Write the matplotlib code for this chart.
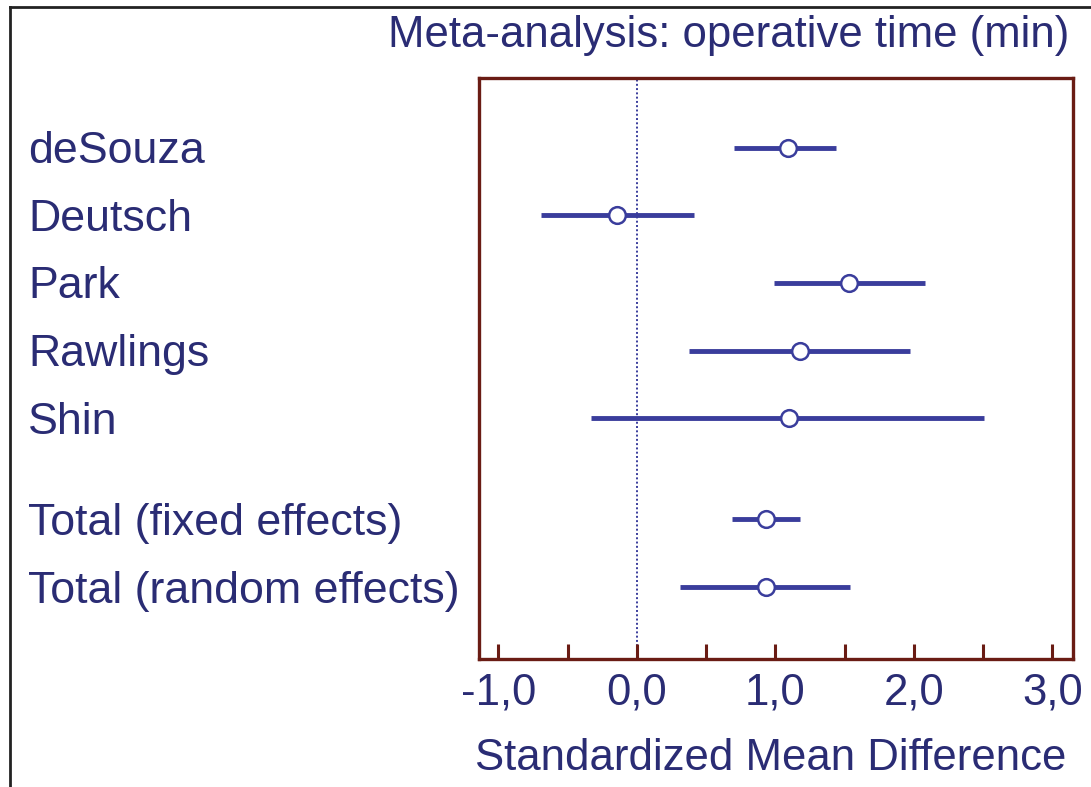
import matplotlib
matplotlib.use("Agg")
import matplotlib.pyplot as plt
import matplotlib.transforms as mtransforms
from matplotlib.lines import Line2D

# Datos (SMD y IC 95%)
studies = ["deSouza", "Deutsch", "Park", "Rawlings", "Shin",
           "Total (fixed effects)", "Total (random effects)"]
row_pos = [0, 1, 2, 3, 4, 5.5, 6.5]
smd = [1.09, -0.14, 1.53, 1.18, 1.10, 0.93, 0.93]
ci_low = [0.70, -0.69, 0.99, 0.38, -0.33, 0.69, 0.31]
ci_high = [1.44, 0.41, 2.08, 1.97, 2.51, 1.18, 1.54]

major_ticks = [-1, 0, 1, 2, 3]
major_labels = ["-1,0", "0,0", "1,0", "2,0", "3,0"]
minor_ticks = [-0.5, 0.5, 1.5, 2.5]

TEXT = "#2a2c74"
LINE = "#3a3d9c"
FRAME = "#6a1c14"

plt.rcParams["font.family"] = ["Liberation Sans", "DejaVu Sans"]
FS = 31.5
W, H = 1091, 787

fig = plt.figure(figsize=(W / 100, H / 100), dpi=100)
ax = fig.add_axes([0.439, 0.1626, 0.5445, 0.7384])

ax.axvline(0, color=LINE, lw=1.4, ls=(0, (1, 1.2)), zorder=1)
for y, m, lo, hi in zip(row_pos, smd, ci_low, ci_high):
    ax.plot([lo, hi], [y, y], color=LINE, lw=3.5, solid_capstyle="butt", zorder=2)
    ax.plot(m, y, "o", ms=12, mfc="white", mec=LINE, mew=1.8, zorder=3)

ax.set_xlim(-1.14, 3.15)
ax.set_ylim(7.565, -1.035)

ax.set_xticks(major_ticks)
ax.set_xticklabels(major_labels, fontsize=FS, color=TEXT)
ax.set_xticks(minor_ticks, minor=True)
ax.tick_params(axis="x", which="both", direction="in", length=11, width=2.2,
               color=FRAME, pad=10)
ax.set_yticks([])
for s in ax.spines.values():
    s.set_color(FRAME)
    s.set_linewidth(2.4)

fig.text(771 / W, 1 - 770 / H, "Standardized Mean Difference",
         ha="center", va="baseline", fontsize=FS, color=TEXT)

# etiquetas de los estudios, línea base ~15 px bajo el centro de la fila
off = mtransforms.ScaledTranslation(0, -15.5 / 100, fig.dpi_scale_trans)
trans = mtransforms.blended_transform_factory(fig.transFigure, ax.transData) + off
for name, y in zip(studies, row_pos):
    ax.text(28 / W, y, name, transform=trans, ha="left", va="baseline",
            fontsize=32.2, color=TEXT, clip_on=False)

fig.text(1069 / W, 1 - 47 / H, "Meta-analysis: operative time (min)",
         ha="right", va="baseline", fontsize=FS, color=TEXT)

# marco exterior (izquierda y arriba)
fig.add_artist(Line2D([10 / W, 10 / W], [0, 1 - 7 / H],
                      transform=fig.transFigure, color="#222222", lw=2))
fig.add_artist(Line2D([10 / W, 1], [1 - 7 / H, 1 - 7 / H],
                      transform=fig.transFigure, color="#222222", lw=2))

fig.savefig("out.png", dpi=100)
